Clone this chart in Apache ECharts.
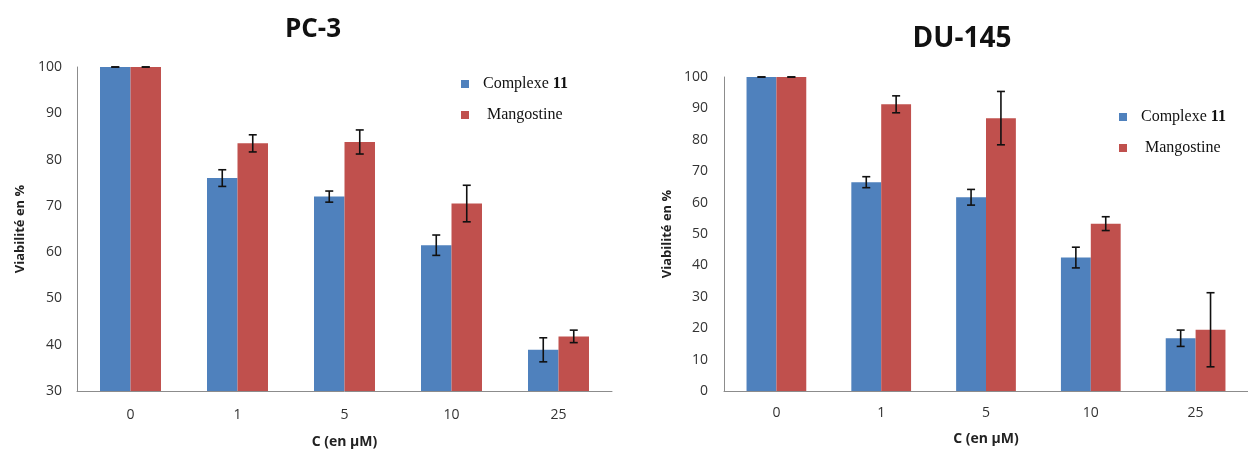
<!DOCTYPE html>
<html>
<head>
<meta charset="utf-8">
<script src="https://cdn.jsdelivr.net/npm/echarts@6/dist/echarts.min.js"></script>
<style>
html,body{margin:0;padding:0;background:#fff;}
#chart{width:1248px;height:454px;}
</style>
</head>
<body>
<div id="chart"></div>
<script>
const categories = ['0', '1', '5', '10', '25'];
const seriesNames = ['Complexe 11', 'Mangostine'];

const pc3Complexe = [100, 76.0, 72.0, 61.5, 38.9];
const pc3ComplexeErr = [0, 1.8, 1.2, 2.2, 2.6];
const pc3Mango = [100, 83.5, 83.8, 70.5, 41.8];
const pc3MangoErr = [0, 1.85, 2.6, 3.95, 1.35];

const du145Complexe = [100, 66.5, 61.7, 42.5, 16.8];
const du145ComplexeErr = [0, 1.75, 2.5, 3.3, 2.6];
const du145Mango = [100, 91.3, 86.9, 53.3, 19.5];
const du145MangoErr = [0, 2.7, 8.5, 2.2, 11.8];

const titles = ['PC-3', 'DU-145'];
const yAxisName = 'Viabilité en %';
const xAxisName = 'C (en µM)';

const BLUE = '#4F81BD';
const RED = '#C0504D';
const GAP = 0.43;
const FONT = '"Open Sans", sans-serif';

function errSeries(vals, errs, side, axisIdx) {
  return {
    type: 'custom',
    xAxisIndex: axisIdx,
    yAxisIndex: axisIdx,
    z: 10,
    silent: true,
    data: vals.map((v, i) => [i, v, errs[i]]),
    renderItem: function (params, api) {
      const xi = api.value(0), v = api.value(1), e = api.value(2);
      const c = api.coord([xi, v]);
      const band = api.size([1, 0])[0];
      const bw = band * (1 - GAP) / 2;
      const cx = c[0] + side * bw / 2;
      const yt = api.coord([xi, v + e])[1];
      const yb = api.coord([xi, v - e])[1];
      const half = 4;
      const st = { stroke: '#111', lineWidth: 1.6 };
      return {
        type: 'group',
        children: [
          { type: 'line', shape: { x1: cx, y1: yt, x2: cx, y2: yb }, style: st },
          { type: 'line', shape: { x1: cx - half, y1: yt, x2: cx + half, y2: yt }, style: st },
          { type: 'line', shape: { x1: cx - half, y1: yb, x2: cx + half, y2: yb }, style: st }
        ]
      };
    }
  };
}

function xAxisCfg(gi) {
  return {
    type: 'category', gridIndex: gi, data: categories,
    axisLine: { lineStyle: { color: '#8c8c8c', width: 1 } },
    axisTick: { show: false },
    axisLabel: { color: '#333', fontSize: 14, fontFamily: FONT, margin: gi === 0 ? 17 : 15 },
    name: xAxisName, nameLocation: 'middle', nameGap: gi === 0 ? 44 : 41,
    nameTextStyle: { color: '#222', fontSize: 14, fontWeight: 'bold', fontFamily: FONT }
  };
}
function yAxisCfg(gi, min) {
  return {
    type: 'value', gridIndex: gi, min: min, max: 100, interval: 10,
    splitLine: { show: false },
    axisLine: { show: true, lineStyle: { color: '#8c8c8c', width: 1 } },
    axisTick: { show: false },
    axisLabel: { color: '#333', fontSize: 14, fontFamily: FONT, margin: gi === 0 ? 15 : 16 },
    name: yAxisName, nameLocation: 'middle', nameGap: 50, nameRotate: 90,
    nameTextStyle: { color: '#222', fontSize: 13, fontWeight: 'bold', fontFamily: FONT }
  };
}
function legendCfg(left, top) {
  return {
    left: left, top: top, orient: 'vertical',
    itemWidth: 8, itemHeight: 8, itemGap: 13, icon: 'rect',
    data: seriesNames,
    formatter: function (name) {
      return name === 'Complexe 11' ? '{a|Complexe }{b|11}' : '{c|Mangostine}';
    },
    textStyle: {
      color: '#111', fontSize: 16, fontFamily: '"Liberation Serif", serif', lineHeight: 18,
      rich: {
        a: { fontSize: 16, fontFamily: '"Liberation Serif", serif', color: '#111', padding: [0, 0, 0, 9] },
        b: { fontSize: 16, fontFamily: '"Liberation Serif", serif', color: '#111', fontWeight: 'bold' },
        c: { fontSize: 16, fontFamily: '"Liberation Serif", serif', color: '#111', padding: [0, 0, 0, 13] }
      }
    }
  };
}

const chart = echarts.init(document.getElementById('chart'), null, { renderer: 'canvas' });
chart.setOption({
  animation: false,
  backgroundColor: '#fff',
  title: [
    { text: titles[0], left: 308, top: 12, textAlign: 'center',
      textStyle: { fontSize: 26, fontWeight: 'bold', color: '#111', fontFamily: FONT } },
    { text: titles[1], left: 957, top: 20, textAlign: 'center',
      textStyle: { fontSize: 28, fontWeight: 'bold', color: '#111', fontFamily: FONT } }
  ],
  legend: [legendCfg(456, 70), legendCfg(1114, 103)],
  grid: [
    { left: 77, top: 67, width: 535, height: 327 },
    { left: 724, top: 77, width: 533, height: 314 }
  ],
  xAxis: [xAxisCfg(0), xAxisCfg(1)],
  yAxis: [yAxisCfg(0, 30), yAxisCfg(1, 0)],
  series: [
    { name: seriesNames[0], type: 'bar', xAxisIndex: 0, yAxisIndex: 0, data: pc3Complexe,
      itemStyle: { color: BLUE }, barGap: '0%', barCategoryGap: '43%' },
    { name: seriesNames[1], type: 'bar', xAxisIndex: 0, yAxisIndex: 0, data: pc3Mango,
      itemStyle: { color: RED }, barGap: '0%', barCategoryGap: '43%' },
    { name: seriesNames[0], type: 'bar', xAxisIndex: 1, yAxisIndex: 1, data: du145Complexe,
      itemStyle: { color: BLUE }, barGap: '0%', barCategoryGap: '43%' },
    { name: seriesNames[1], type: 'bar', xAxisIndex: 1, yAxisIndex: 1, data: du145Mango,
      itemStyle: { color: RED }, barGap: '0%', barCategoryGap: '43%' },
    errSeries(pc3Complexe, pc3ComplexeErr, -1, 0),
    errSeries(pc3Mango, pc3MangoErr, 1, 0),
    errSeries(du145Complexe, du145ComplexeErr, -1, 1),
    errSeries(du145Mango, du145MangoErr, 1, 1)
  ]
});
</script>
</body>
</html>
